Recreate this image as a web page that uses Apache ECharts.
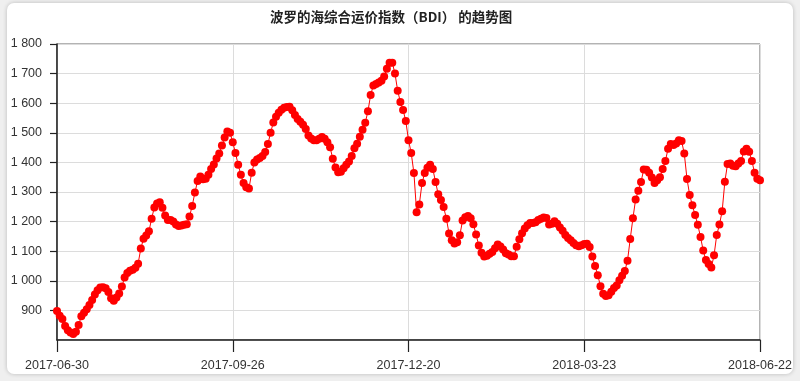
<!DOCTYPE html>
<html><head><meta charset="utf-8">
<script src="https://cdn.jsdelivr.net/npm/echarts@6/dist/echarts.min.js"></script>
<style>
html,body{margin:0;padding:0;background:#efefef;width:800px;height:381px;overflow:hidden}
#card{position:absolute;left:7px;top:3px;width:786px;height:371px;background:#fff;border-radius:7px;box-shadow:0 0 4px rgba(0,0,0,.22)}
#chart{position:absolute;left:0;top:0;width:800px;height:381px}
</style></head>
<body><div id="card"></div><div id="chart"></div>
<script>
const titleText = '波罗的海综合运价指数（BDI） 的趋势图';
const tickLabels = ['2017-06-30', '2017-09-26', '2017-12-20', '2018-03-23', '2018-06-22'];
const yTicks = [800, 900, 1000, 1100, 1200, 1300, 1400, 1500, 1600, 1700, 1800];
const bdiValues = [
  898, 882, 871, 847, 833, 825, 820, 828, 851, 880,
  892, 904, 918, 935, 954, 968, 977, 978, 975, 962,
  941, 933, 944, 957, 981, 1011, 1026, 1034, 1037, 1044,
  1058, 1109, 1142, 1153, 1167, 1210, 1248, 1261, 1265, 1247,
  1221, 1205, 1205, 1200, 1190, 1185, 1187, 1189, 1191, 1217,
  1253, 1298, 1337, 1352, 1343, 1345, 1358, 1378, 1393, 1413,
  1430, 1457, 1484, 1504, 1500, 1468, 1432, 1392, 1358, 1330,
  1316, 1312, 1365, 1400, 1410, 1415, 1422, 1435, 1462, 1500,
  1535, 1554, 1568, 1578, 1585, 1587, 1588, 1576, 1560, 1547,
  1537, 1527, 1513, 1491, 1481, 1475, 1475, 1480, 1486, 1480,
  1468, 1451, 1412, 1383, 1367, 1368, 1380, 1392, 1403, 1422,
  1448, 1463, 1487, 1510, 1534, 1573, 1628, 1660, 1665, 1670,
  1676, 1690, 1716, 1737, 1737, 1700, 1642, 1604, 1577, 1540,
  1475, 1432, 1364, 1232, 1258, 1330, 1364, 1382, 1392, 1378,
  1334, 1292, 1273, 1249, 1210, 1160, 1137, 1126, 1130, 1154,
  1204, 1215, 1219, 1211, 1191, 1156, 1119, 1095, 1082, 1085,
  1091, 1097, 1110, 1123, 1116, 1106, 1093, 1089, 1083, 1083,
  1115, 1140, 1161, 1177, 1188, 1195, 1195, 1198, 1205, 1210,
  1214, 1212, 1190, 1193, 1201, 1193, 1180, 1169, 1155, 1145,
  1137, 1128, 1120, 1117, 1120, 1124, 1125, 1114, 1082, 1050,
  1019, 982, 956, 949, 951, 963, 976, 984, 1002, 1017,
  1033, 1068, 1141, 1211, 1275, 1304, 1334, 1376, 1375, 1365,
  1349, 1330, 1340, 1350, 1378, 1405, 1446, 1462, 1459, 1464,
  1475, 1472, 1430, 1344, 1290, 1255, 1222, 1189, 1148, 1102,
  1070, 1057, 1045, 1086, 1155, 1190, 1235, 1335, 1395, 1396,
  1389, 1387, 1396, 1405, 1437, 1446, 1436, 1405, 1365, 1345,
  1340
];

const lastIndex = bdiValues.length - 1;
const labelStep = lastIndex / (tickLabels.length - 1);

function fmtThousands(v) {
  if (v >= 1000) {
    const r = String(v % 1000).padStart(3, '0');
    return Math.floor(v / 1000) + ' ' + r;
  }
  return String(v);
}

const chart = echarts.init(document.getElementById('chart'), null, {renderer: 'canvas'});
chart.setOption({
  backgroundColor: 'transparent',
  animation: false,
  title: {
    text: titleText,
    left: 265,
    top: 5,
    textStyle: {fontFamily: '"Noto Sans CJK SC", sans-serif', fontSize: 13.5, fontWeight: 'bold', color: '#222'}
  },
  grid: {
    left: 57, right: 40, top: 44, bottom: 41,
    show: true, borderColor: '#666', borderWidth: 1, backgroundColor: 'transparent'
  },
  xAxis: {
    type: 'value',
    min: 0,
    max: lastIndex,
    interval: labelStep,
    axisLine: {show: true, lineStyle: {color: '#222', width: 1.5}},
    axisTick: {show: true, length: 12, lineStyle: {color: '#222', width: 1.2}},
    axisLabel: {
      margin: 19,
      fontFamily: '"Liberation Sans", Arial, sans-serif',
      fontSize: 12.5,
      color: '#333',
      formatter: function (v) { return tickLabels[Math.round(v / labelStep)] || ''; }
    },
    splitLine: {show: true, lineStyle: {color: '#dcdcdc', width: 1}}
  },
  yAxis: {
    type: 'value',
    min: yTicks[0],
    max: yTicks[yTicks.length - 1],
    interval: yTicks[1] - yTicks[0],
    axisLine: {show: true, lineStyle: {color: '#222', width: 1.5}},
    axisTick: {show: true, length: 7, lineStyle: {color: '#222', width: 1.2}},
    axisLabel: {
      margin: 15,
      showMinLabel: false,
      fontFamily: '"Liberation Sans", Arial, sans-serif',
      fontSize: 12.5,
      color: '#333',
      formatter: fmtThousands
    },
    splitLine: {show: true, lineStyle: {color: '#dcdcdc', width: 1}}
  },
  series: [{
    type: 'line',
    data: bdiValues.map(function (v, i) { return [i, v]; }),
    symbol: 'circle',
    symbolSize: 8,
    showSymbol: true,
    showAllSymbol: true,
    itemStyle: {color: '#ff0000'},
    lineStyle: {color: '#ff0000', width: 1},
    z: 3
  }]
});
</script>
</body></html>
